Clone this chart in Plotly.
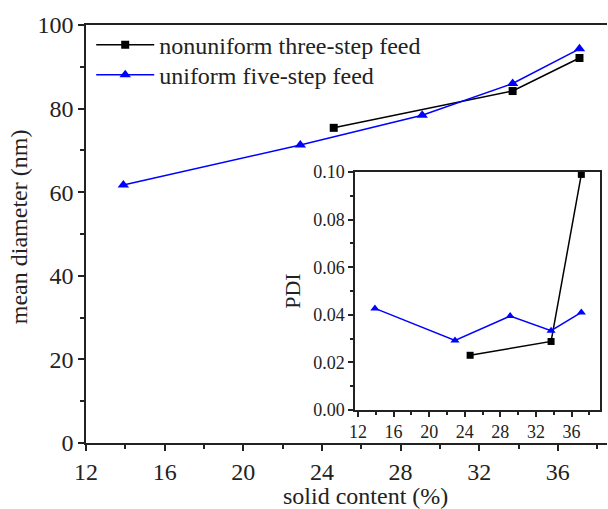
import plotly.graph_objects as go

# Main plot data: mean diameter (nm) vs solid content (%)
x_nonuniform = [24.6, 33.7, 37.1]
d_nonuniform = [75.4, 84.2, 92.1]
x_uniform = [13.9, 22.9, 29.1, 33.7, 37.1]
d_uniform = [61.7, 71.3, 78.4, 86.0, 94.3]

# Inset data: PDI vs solid content (%)
pdi_nonuniform = [0.023, 0.0288, 0.099]
pdi_uniform = [0.0427, 0.0292, 0.0395, 0.0333, 0.041]

name_non = "nonuniform three-step feed"
name_uni = "uniform five-step feed"
x_title = "solid content (%)"
y_title = "mean diameter (nm)"
inset_y_title = "PDI"

FONT = "Liberation Serif, Times New Roman, serif"
BLUE = "#0000FF"
BLACK = "#000000"

fig = go.Figure()

fig.add_trace(go.Scatter(x=x_nonuniform, y=d_nonuniform, mode="lines+markers",
                         name=name_non, legend="legend",
                         line=dict(color=BLACK, width=1.5),
                         marker=dict(symbol="square", size=8, color=BLACK)))
fig.add_trace(go.Scatter(x=x_uniform, y=d_uniform, mode="lines+markers",
                         name=name_uni, legend="legend2",
                         line=dict(color=BLUE, width=1.5),
                         marker=dict(symbol="triangle-up", size=10, color=BLUE)))

fig.add_trace(go.Scatter(x=x_nonuniform, y=pdi_nonuniform, mode="lines+markers",
                         xaxis="x2", yaxis="y2", showlegend=False,
                         line=dict(color=BLACK, width=1.5),
                         marker=dict(symbol="square", size=7, color=BLACK)))
fig.add_trace(go.Scatter(x=x_uniform, y=pdi_uniform, mode="lines+markers",
                         xaxis="x2", yaxis="y2", showlegend=False,
                         line=dict(color=BLUE, width=1.5),
                         marker=dict(symbol="triangle-up", size=8, color=BLUE)))

axis_common = dict(showgrid=False, zeroline=False, showline=True, linecolor="#222",
                   linewidth=1.5, ticks="outside", tickcolor="#222", tickwidth=1.5)

legend_common = dict(xanchor="left", yanchor="middle", bgcolor="rgba(0,0,0,0)",
                     font=dict(size=24, family=FONT), itemwidth=58)

fig.update_layout(
    width=608, height=509,
    margin=dict(l=86, r=1, t=25, b=66),
    paper_bgcolor="white", plot_bgcolor="white",
    font=dict(family=FONT, color="#222"),
    showlegend=True,
    legend=dict(x=0.01, y=0.952, **legend_common),
    legend2=dict(x=0.01, y=0.880, **legend_common),
    xaxis=dict(**axis_common, range=[12, 38.5], tick0=12, dtick=4, ticklen=6,
               mirror=True, tickfont=dict(size=24),
               minor=dict(ticks="outside", dtick=2, ticklen=4, tickcolor="#222")),
    yaxis=dict(**axis_common, range=[0, 100], dtick=20, ticklen=6,
               tickfont=dict(size=24),
               minor=dict(ticks="outside", dtick=10, ticklen=4, tickcolor="#222")),
    xaxis2=dict(**axis_common, domain=[0.5163, 0.9866], anchor="y2",
                range=[11.66, 39.2], tick0=12, dtick=4, ticklen=5, mirror=True,
                tickfont=dict(size=18),
                minor=dict(ticks="outside", dtick=2, ticklen=3, tickcolor="#222")),
    yaxis2=dict(**axis_common, domain=[0.0789, 0.6483], anchor="x2",
                range=[0, 0.1], dtick=0.02, tickformat=".2f", ticklen=5, mirror=True,
                tickfont=dict(size=18),
                minor=dict(ticks="outside", dtick=0.01, ticklen=3, tickcolor="#222"),
                title=dict(text=inset_y_title, font=dict(size=22), standoff=6)),
    annotations=[
        dict(text=x_title, xref="paper", yref="paper", x=0.537, y=-0.127,
             xanchor="center", yanchor="middle", showarrow=False,
             font=dict(size=24, family=FONT, color="#222")),
        dict(text=y_title, xref="paper", yref="paper", x=-0.128, y=0.517,
             xanchor="center", yanchor="middle", showarrow=False, textangle=-90,
             font=dict(size=24, family=FONT, color="#222")),
    ],
)

fig.write_html("out.html", config={"displayModeBar": False},
               post_script="document.body.style.margin='0';")
